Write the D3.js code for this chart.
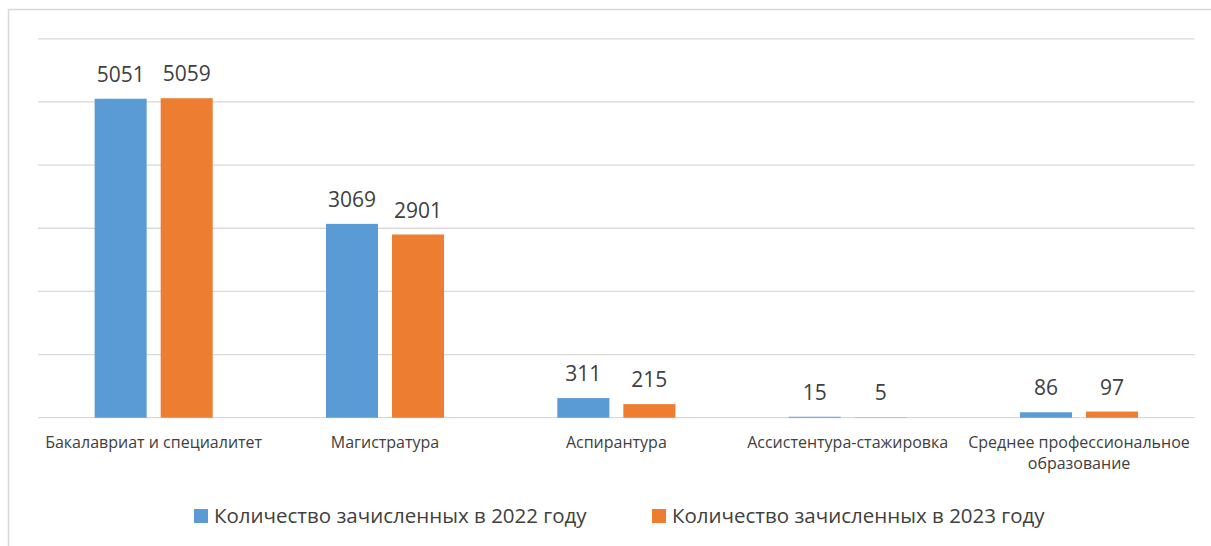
<!DOCTYPE html>
<html>
<head>
<meta charset="utf-8">
<script src="https://cdn.jsdelivr.net/npm/d3@7"></script>
<style>
  body { margin: 0; background: #fff; }
  svg { display: block; font-family: "Open Sans", sans-serif; }
</style>
</head>
<body>
<div id="chart"></div>
<script>
var categories = ["Бакалавриат и специалитет", "Магистратура", "Аспирантура", "Ассистентура-стажировка", "Среднее профессиональное образование"]
var series = ["Количество зачисленных в 2022 году", "Количество зачисленных в 2023 году"]
var values2022 = [5051, 3069, 311, 15, 86]
var values2023 = [5059, 2901, 215, 5, 97]
var yTicks = [0, 1000, 2000, 3000, 4000, 5000, 6000]

var colours = ["#5B9BD5", "#ED7D31"]
var width = 1211, height = 546
var margin = {left: 38, right: 16.3, top: 38.8, bottom: 128.3}

var svg = d3.select("#chart").append("svg")
  .attr("width", width).attr("height", height)

// chart area border (cropped at right and bottom)
svg.append("rect")
  .attr("x", 8.5).attr("y", 9.5)
  .attr("width", width + 20).attr("height", height + 20)
  .attr("fill", "none").attr("stroke", "#D9D9D9").attr("stroke-width", 1.5)

var x0 = d3.scaleBand().domain(categories).range([margin.left, width - margin.right]).padding(0)
var x1 = d3.scaleBand().domain([0, 1]).range([0, x0.bandwidth()])
  .paddingInner(0.2121).paddingOuter(0.858)
var y = d3.scaleLinear().domain([0, 6000]).range([height - margin.bottom, margin.top])

// gridlines
svg.append("g").selectAll("line").data(yTicks).join("line")
  .attr("x1", margin.left).attr("x2", width - margin.right)
  .attr("y1", d => y(d)).attr("y2", d => y(d))
  .attr("stroke", "#D9D9D9").attr("stroke-width", 1.3)

var rows = categories.map((c, i) => ({cat: c, vals: [values2022[i], values2023[i]]}))

var groups = svg.append("g").selectAll("g").data(rows).join("g")
  .attr("transform", d => "translate(" + x0(d.cat) + ",0)")

groups.selectAll("rect").data(d => d.vals).join("rect")
  .attr("x", (d, i) => x1(i))
  .attr("width", x1.bandwidth())
  .attr("y", d => y(d))
  .attr("height", d => y(0) - y(d))
  .attr("fill", (d, i) => colours[i])

groups.selectAll("text").data(d => d.vals).join("text")
  .attr("x", (d, i) => x1(i) + x1.bandwidth() / 2)
  .attr("y", d => y(d) - 17)
  .attr("text-anchor", "middle")
  .attr("font-size", 21)
  .attr("fill", "#404040")
  .text(d => d)

// category labels, wrapped like Excel
var catLines = {"Среднее профессиональное образование": ["Среднее профессиональное", "образование"]}
var xLabels = svg.append("g").selectAll("text").data(categories).join("text")
  .attr("x", d => x0(d) + x0.bandwidth() / 2)
  .attr("y", y(0) + 30)
  .attr("text-anchor", "middle")
  .attr("font-size", 16)
  .attr("fill", "#404040")
xLabels.selectAll("tspan").data(d => catLines[d] || [d]).join("tspan")
  .attr("x", function() { return d3.select(this.parentNode).attr("x") })
  .attr("dy", (d, i) => i ? 21 : 0)
  .text(d => d)

// legend
var legendX = [194, 652]
var legend = svg.append("g").selectAll("g").data(series).join("g")
  .attr("transform", (d, i) => "translate(" + legendX[i] + ",509)")
legend.append("rect").attr("width", 14).attr("height", 14).attr("fill", (d, i) => colours[i])
legend.append("text").attr("x", 20).attr("y", 14)
  .attr("font-size", 20.5).attr("fill", "#404040").text(d => d)
</script>
</body>
</html>
